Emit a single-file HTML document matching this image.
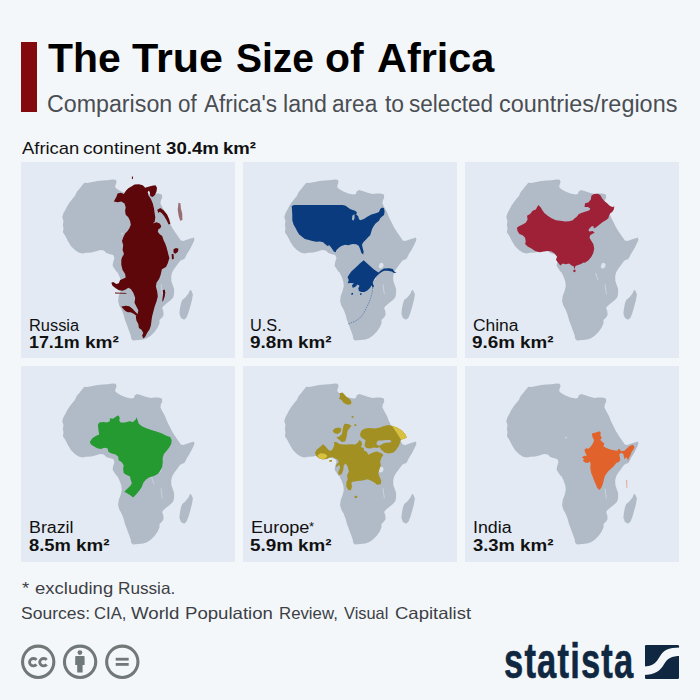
<!DOCTYPE html>
<html><head><meta charset="utf-8">
<style>
html,body{margin:0;padding:0;}
body{width:700px;height:700px;background:#f4f7fa;position:relative;overflow:hidden;font-family:"Liberation Sans",sans-serif;color:#000;}
.bar{position:absolute;left:21px;top:42px;width:16.4px;height:70px;background:#83090c;}
.t{position:absolute;white-space:nowrap;transform-origin:0 0;line-height:1;}
.t b{font-weight:bold;}
.p{position:absolute;width:214px;height:196px;background:#e3eaf3;overflow:hidden;}
.p svg{position:absolute;left:0;top:0;}
</style></head><body>
<svg width="0" height="0" style="position:absolute"><defs><g id="af"><path d="M41.9 70.3L42.5 66.6L41.9 62.8L42.5 59L41.3 55.3L42.3 51.5L44.4 47.7L46.3 43.9L48.8 40.2L51.3 37L53.9 33.9L55.7 30.1L58.3 27L60.8 23.8L63.3 20.7L66.4 21.1L71.5 20.1L76.5 19.1L81.5 18.5L86.5 18.2L91.6 17.5L94.7 17.8L95.6 20.1L94.7 22.6L94.1 25.1L96 27L100.4 29.5L105.4 31.4L110.4 32.6L112.9 32L113.6 29.5L116.1 28L119.6 28.9L124.6 30.7L129.6 32L133.4 31.4L137.2 31.6L140.9 32.6L141.2 35.8L139.9 38.3L139.4 41.4L141.6 45.8L144.1 50.2L146 55.3L148.5 60.3L151 65.3L154.1 70.3L157.3 74.7L159.8 78.5L162.3 78.9L167.3 77.3L173 75.4L173.4 77.9L171.7 81.7L169.2 86.7L166.1 91.7L163.6 96.7L159.2 98.8L156.1 102.9L152.9 107.3L151.1 110.4L150.2 114.2L150.4 119.2L151.7 123L153.1 126.7L153.1 131.8L152.2 135.5L149.9 137.9L146.1 141.1L142.3 144.2L141.1 146.1L142.3 149.2L142.6 153L141.1 155.5L138.5 158L138.5 161.2L136.7 165.6L133.5 170L129.7 173.7L126 176.3L122.2 177.5L117.2 178.1L112.1 178.4L110.3 176.9L109.6 173.1L107.7 168.1L105.9 163.1L104 158L102.7 153L100.8 148L98.3 143.6L97.1 139.2L97.7 134.1L99.6 129.1L100.8 124.1L100.2 119.1L98.3 114L95.8 109L96 110.6L93.5 106.8L91.6 103.7L92.2 99.9L93.5 96.1L92.2 93L89.1 92.3L85.3 91.1L82.8 88.6L79 87.9L75.2 89.2L70.2 90.5L65.2 90.7L61.4 91.5L57.6 90.5L53.9 87.9L50.1 84.2L46.9 79.1L44.4 74.1ZM170 127.9L171.9 132.3L171 137.9L169.3 144.2L167.5 150.5L165.6 155.5L163.1 157.8L159.9 156.1L158.4 151.7L158.9 146.7L159.9 141.7L161.2 137.9L164.3 135.4L167.5 131.6L168.7 128.5Z" fill="#b0bbc7"/><ellipse cx="138.2" cy="103.7" rx="2.2" ry="2.9" fill="#dbe4ee" transform="rotate(20 138.2 103.7)"/><path d="M130.4 110.9L131.6 114L132.9 118M140 122.3L140.6 127L141.4 132.3" stroke="#c9d3de" stroke-width="1" fill="none"/><circle cx="101" cy="71.6" r="0.9" fill="#d0dae5"/></g></defs></svg>
<div class="bar"></div>
<div class="p" style="left:21px;top:162px"><svg width="214" height="196" viewBox="0 0 214 196"><use href="#af"/><path d="M113.5 22.6L117.9 22.2L121.7 23.2L124.2 25.7L127.4 24.8L131.1 23.8L134.5 23.3L136 25.7L135.5 29.5L133.9 32.9L131.5 35L129.3 33.9L128.9 30.7L128 28.6L126.7 30.1L127.4 33.3L129.9 37L131.8 41.4L133 46.5L133.7 51.5L134.3 55.3L133.7 59.7L131.8 61.5L135.5 60.3L138.7 61.5L140.3 64.1L139.3 66.2L137.4 67.2L136.8 69.7L138.7 72.2L141.2 74.1L142.5 77.9L144.3 81.7L145.6 85.4L146.9 90.5L147.5 93L148.4 95.9L146.7 101.5L145 104.9L140.9 107.3L139.6 113L138.1 116.9L135.5 120.7L134.9 124.4L136.2 129.5L136.8 134.5L135.5 139.5L133.7 144.5L132.4 149.6L131.1 154.6L130.5 158.4L129.9 163.4L128.6 167.2L126.1 170.9L124.2 174.7L122.3 176.6L121.1 173.5L122.3 170.9L120.5 167.8L117.9 165.9L117.3 162.1L115.4 158.4L114.8 154.6L116.7 152.1L117.3 148.3L115.4 144.5L113.5 140.8L114.2 135.7L112.3 130.7L109.8 126.9L107.3 125.7L104.7 127.6L101.6 128.8L97.8 128.2L94.7 126.3L91.5 123.8L90.3 120.7L92.2 120L95.3 121.9L97.8 121.3L99.1 118.1L101.6 116.9L104.7 115.6L104.1 111.9L101.6 108.1L100.3 103.1L100.3 98L101.6 93L101.6 95.5L102.9 91.7L101.6 87.9L102.2 82.9L101 79.1L102.2 75.4L104.1 71.6L106.6 69.1L108.5 65.9L109.8 62.8L109.1 59L107.3 55.3L104.7 52.7L104.1 49L104.7 45.2L103.5 41.4L100.3 39.5L96.6 40.2L92.8 39.5L95.3 35.1L96.6 31.4L99.7 30.7L102.9 32L104.7 28.9L107.3 26.3L110.4 24.5ZM136.3 47.7L139.3 46L142.8 48.5L146.1 52.5L148.1 57.1L149.4 61.8L147.6 62.5L145.6 58.3L143.1 54L140.6 51L138.7 49.7L137.3 51ZM100.3 144.4L104.7 143.7L108.3 144.2L111.2 146.6L114 149.4L117.6 153L115.7 154L112.7 151.8L109.6 150.3L106.9 150.3L104.7 149.3L102.6 147.2ZM94 130.6L105.4 131L105.4 131.8L94 131.5ZM141.8 128.2L143.7 127.6L144.3 130.7L143.7 134.5L142.5 138.3L141.2 140.1L141.6 135.7L142.1 132ZM152.5 87.3L155 86.1L157.5 86.7L156.9 89.8L154.4 91.7L152.5 90.5ZM150.6 92.3L152.5 91.7L152.9 96.7L151 97.4ZM110.9 14.4L111.9 14.4L111.9 16.9L110.9 16.9Z" fill="#5d070a"/><path d="M157.5 40.8L159.4 41.2L159.9 46.5L161.2 51.5L161.4 58L159.2 58.8L157.7 54L156.7 47.7Z" fill="#5d070a" opacity=".55"/></svg></div>
<div class="p" style="left:243px;top:162px"><svg width="214" height="196" viewBox="0 0 214 196"><use href="#af"/><path d="M48.7 44.1L51.2 43.1L68.1 43.1L93.3 43.1L99.6 43.1L102.7 43.7L104.6 45.3L107.1 46.9L109.6 47.9L112.1 48.7L114 50.6L112.8 53.1L110.9 52.5L109.4 53.8L109 57.5L110.3 58.8L111.5 56.3L111.5 53.1L113.4 52.5L115.3 54.4L115.9 56.9L117.2 58.2L120.9 56.9L124.7 54.4L128.4 52.5L132.8 51.3L136 50L137.2 46.9L139.1 45.6L141 46.2L141.6 50L141 53.1L139.1 54.4L137.2 56.3L136 58.8L132.8 61.3L130.9 63.8L129.1 67L128.2 70.1L127.2 73.3L125.3 75.1L122.8 77.7L120.3 80.2L119 82.7L119.6 85.8L120.6 89.6L120.3 92.4L118.4 90.9L117.1 87.1L115.9 83.9L113.3 82.3L109.6 82.1L105.2 83.3L102.1 82.7L98.3 83.9L95.8 85.8L93.3 88.3L92.7 90.2L90.8 89.6L88.9 86.5L86.4 83.3L84.5 83.9L82 82.1L80.1 80.2L76.9 79.5L73.2 79.8L69.4 78.9L65 77.7L61.9 77L59.3 75.1L56.2 72.6L54.3 69.5L52.4 65.7L50.5 62.6L49.3 58.2L49.3 53.1L49 48.1ZM120.7 98.3L125.9 103.1L131 107.5L135.4 110.6L138.5 108.1L141 106.6L146.1 106.2L149.8 106.9L151.1 109.4L153.6 110.4L151.1 110.9L148.6 109.6L144.8 108.7L141 108.7L137.9 110.4L135.4 112.5L132.9 115L131 117.5L129.7 120.7L131 124.5L129.7 125.7L128.5 123.2L127.2 125.7L124.7 128.2L121.5 130.1L118.4 130.1L115.9 128.9L115.3 126.3L116.5 123.8L114.6 122.6L112.1 125.1L109.6 125.7L109 123.2L110.9 121.3L107.7 120.9L104.6 121.3L105.8 118.2L104.6 115L106.5 111.9L108.3 109.4L112.7 105.6L117.1 101.2ZM108.1 131.4L109.9 130.7L110.2 132.3L108.6 133ZM116.9 131.4L118.4 131.1L118.7 132.6L117.1 132.9Z" fill="#0a3b7e"/><path d="M129.7 125.7L129.1 130.7L127.8 135.8L125.9 140.8L123.4 145.8L120.9 150.9L117.8 155.3L112.7 159L104.6 162.2" fill="none" stroke="#0a3b7e" stroke-width="0.6" stroke-opacity=".7" stroke-dasharray="1.5 1"/></svg></div>
<div class="p" style="left:465px;top:162px"><svg width="214" height="196" viewBox="0 0 214 196"><use href="#af"/><path d="M51.9 65.7L54.4 63.9L57.6 62.6L60.7 60.7L62.6 57.6L62 53.8L65.1 51.9L67.6 48.8L70.8 47.5L73.3 43.1L75.8 45.6L77.7 48.8L79.6 51.3L82.7 53.8L86.5 56.3L90.9 58.2L95.3 58.8L100.3 59.5L104.1 59.2L107.9 58.2L108.8 57L112 54.5L113.9 51.9L117 50.7L120.8 49.4L124.5 48.2L125.2 46.3L122.7 45L119.5 45L120.1 41.3L123.3 40.6L125.8 37.5L126.4 33.7L128.9 32.1L132.7 31.8L135.2 33.1L137.1 36.2L139 38.7L142.1 41.3L144.7 43.8L147.2 45L149.3 44.4L148.8 47.5L147.2 50.1L145.3 51.3L144 53.8L143.4 56.3L140.9 58.2L137.7 60.1L134.6 62.6L131.5 65.1L128.9 66.4L128.3 63.9L126.4 64.5L124.5 66.4L123.3 68.3L124.5 69.5L127.7 68.9L129.6 70.8L127.1 72.1L125.2 73.3L124.5 75.8L126.4 79L128.3 82.1L129.2 86.5L128.3 90.9L126.4 94.7L123.3 98.5L119.5 101L119.2 100.3L115.4 102.2L111.6 103.5L110.1 104.5L110 106.5L109 106.2L108.9 104.5L106.6 103.5L104.1 101.6L100.9 102.2L97.8 101.6L95.3 103.5L93.4 100.9L90.9 97.8L92.1 94.7L89.6 91.5L86.5 89.6L82.7 89L78.9 89.6L74.5 90.3L70.1 89L66.4 86.5L62.6 84.6L60.1 82.1L60.7 79.6L60.1 75.8L57.6 73.3L54.4 72L52.5 68.9ZM108.5 108L109.6 107.4L110.6 108.1L110.4 109.7L109.1 110.2L108.2 109.2Z" fill="#9f2137"/></svg></div>
<div class="p" style="left:21px;top:366px"><svg width="214" height="196" viewBox="0 0 214 196"><use href="#af"/><path d="M68.8 76.1L71.3 72.3L75.1 69.8L78.2 68.5L77.6 64.7L76.9 59.1L78.2 56.6L82.6 55.9L85.7 56.6L88.9 55.3L88.9 52.2L92 52.8L94.5 50.9L97.1 49.3L98.7 51.5L98.3 54.7L99.6 56.6L104 56.6L108.4 55.3L112.1 55.9L114.7 53.4L115.5 51.3L116.8 54.7L117.8 57.8L120.9 60.3L125.3 62.2L130.4 64.1L135.4 65.4L140.4 67.3L145.5 69.8L149.2 71L150.7 74.2L150.2 77.9L148 81.7L145.5 84.9L142.9 88L141.7 91.8L141.7 96.8L141.1 101.2L139.2 105L136.7 108.1L132.9 110L128.5 111.3L124.7 113.8L122.2 116.9L120.9 120.7L118.4 124.5L115.3 128.2L112.1 131.4L109.6 129.5L106.5 127.6L103.3 125.7L106.5 122.6L109.6 119.4L110.9 116.9L109.6 113.8L109 110.6L105.2 108.7L102.7 106.9L102.1 103.1L102.7 99.3L100.8 96.2L97.7 94.3L97.1 90.5L94.5 88.6L90.8 87.4L87.6 86.1L86.4 82.3L83.2 81.7L80.1 83L76.3 82.3L73.2 80.5L70 78.6Z" fill="#249a30"/></svg></div>
<div class="p" style="left:243px;top:366px"><svg width="214" height="196" viewBox="0 0 214 196"><use href="#af"/><path d="M71.9 86.7L73.8 83.6L77.6 80.4L80.1 78.2L82.6 80.4L85.7 84.2L88.3 84.8L90.1 82.3L91.4 78.5L90.8 76L93.3 76L96.4 77.9L99.6 78.5L104 78.5L108.4 78.2L112.1 78.5L114.7 76.7L116.5 74.1L118.4 75.4L119.1 78.5L117.8 81.1L120.9 81.9L120.8 84.3L124 86.1L125.2 88.7L127.7 87.4L131.5 86.1L134 85.5L137.2 86.8L139.1 87.4L140.3 89.3L138.4 91.8L137.2 95.6L137.8 99.3L136.5 103.1L135.3 106.9L136.5 110.7L138.2 114.4L137.8 118.2L134 118.8L130.9 116.3L127.7 114.4L124.6 113.2L119.6 114.4L114.5 115.1L109.5 115.7L110.3 115L108.4 116.9L109 120.7L107.7 124.4L105.2 123.8L103.3 120.7L103.3 116.9L104.6 113.1L104 109.3L105.9 105.6L104.6 100.5L102.7 97.4L100.8 99.3L100.2 104.3L98.9 108.1L95.8 109.3L95.2 106.2L97.1 101.8L96.4 98.7L93.9 100.5L92.7 101.8L93.3 98.7L95.8 96.1L94.5 93.6L92 92.4L89.5 91.1L86.4 91.7L83.9 93L80.1 93.6L76.3 92.4L73.2 89.9ZM101.5 57.8L105.2 58.1L108.4 59.7L106.5 62.2L104.6 64.7L104 68.5L103.3 72.3L102.1 75.4L98.9 76L95.8 73.5L93.3 71.6L96.4 70.4L98.9 67.9L99.6 64.1L100.2 60.9ZM89.5 64.7L92 62.2L95.8 61.6L98.3 62.8L97.7 66L94.5 67.9L91.4 67.2ZM117 68L118.5 64.5L122 62.5L127 62L132 62.5L137 61.5L141 60L145 59L149 59.8L154 61.5L159 64.5L162.5 68.5L163.8 71.5L161 73L158 73.5L157 77L155.5 80.5L153 84L150.5 86.5L146 87.5L142 86.8L138.5 84L136.5 81L134.5 82L131 81.5L127 82.5L123.5 82L121.5 80L122 77L122.5 74L119.5 72.5L117.5 70.5L117 68L133.5 76.5L133.8 78.5L135.5 79.8L138 79L140 77.5L143 76.8L147 76.5L148.5 75.2L147 74L143 74L139 74.5L135.5 74.5L133.5 76.5ZM96.5 27.2L99.6 26.6L101.2 28.2L103.4 30.7L106.6 32.9L108.4 35.4L108.1 37.9L105.9 38.8L102.8 38.2L100.3 36.6L98.4 34.1L95.9 32.6L97.1 30.4ZM108.7 50L110.5 50L110.5 51.8L108.7 51.8ZM111.5 58.2L113.3 58.2L113.3 59.9L111.5 59.9ZM111.5 130.1L114.3 129.8L114 132L111.8 132ZM86.4 94L88.9 94L88.9 95.8L86.4 95.8Z" fill="#a29122" fill-rule="evenodd"/><path d="M149 59.8L154 61.5L159 64.5L162.5 68.5L163.8 71.5L161 73L158 73.5L156 70.5L153.5 66.5L151 63ZM74.4 89.2L77.6 87.3L82 87.7L84.5 89.9L82.6 92.4L78.8 93.3L75.7 92Z" fill="#d8c040"/></svg></div>
<div class="p" style="left:465px;top:366px"><svg width="214" height="196" viewBox="0 0 214 196"><use href="#af"/><path d="M127.1 67.3L130.1 66.8L134.3 65.3L135.8 66.8L135.3 69.4L136.8 71.4L135.3 74L137.3 76.1L139.4 77.6L138.4 80.2L140.9 81.7L144.5 83.3L148.7 84.3L152.3 84.8L153.8 82.7L155.3 83.8L155.9 85.3L159.5 84.8L161.5 82.7L164.1 80.2L167.7 78.8L169.5 80.7L168.7 83.3L166.7 85.8L165.6 88.9L164.1 91.5L163.1 94.6L162 92L160.5 91.5L159.5 93.5L158.9 90.5L158.4 87.9L156.4 86.9L154.3 87.9L154.8 91L155.3 94.1L153.8 96.1L151.2 97.1L149.2 99.7L146.6 102.3L143.5 104.9L141.5 107.4L139.9 110L138.9 113.6L137.9 117.7L136.3 121.8L134.3 123.9L132.2 121.8L130.7 118.2L129.1 114.6L127.6 110.5L126 106.4L125.3 102.3L125.5 98.2L125 95.6L122.9 97.1L119.9 96.6L117.8 94.6L119.3 93L116.8 91.5L118.8 89.9L121.9 89.4L120.4 86.9L119.3 83.8L121.4 82.2L123.5 82.7L126 80.2L128.1 77.1L129.1 74L127.6 71.4L127.1 68.9Z" fill="#e1632b"/><path d="M161.3 114.1L162.1 114.1L162.3 121.8L161.5 121.8Z" fill="#e1632b" opacity=".6"/></svg></div>
<div class="t" style="left:48.00px;top:38.14px;font-size:40px;font-weight:bold;color:#000;transform:scaleX(1.0229)">The</div>
<div class="t" style="left:132.10px;top:38.14px;font-size:40px;font-weight:bold;color:#000;transform:scaleX(1.0759)">True</div>
<div class="t" style="left:235.83px;top:38.14px;font-size:40px;font-weight:bold;color:#000;transform:scaleX(0.9744)">Size</div>
<div class="t" style="left:325.16px;top:38.14px;font-size:40px;font-weight:bold;color:#000;transform:scaleX(1.0222)">of</div>
<div class="t" style="left:376.96px;top:38.14px;font-size:40px;font-weight:bold;color:#000;transform:scaleX(1.0354)">Africa</div>
<div class="t" style="left:47.19px;top:92.53px;font-size:23px;font-weight:normal;color:#4a4e53;transform:scaleX(1.0098)">Comparison</div>
<div class="t" style="left:178.13px;top:92.53px;font-size:23px;font-weight:normal;color:#4a4e53;transform:scaleX(0.9722)">of</div>
<div class="t" style="left:204.20px;top:92.53px;font-size:23px;font-weight:normal;color:#4a4e53;transform:scaleX(0.9784)">Africa's</div>
<div class="t" style="left:283.29px;top:92.53px;font-size:23px;font-weight:normal;color:#4a4e53;transform:scaleX(1.0098)">land</div>
<div class="t" style="left:331.92px;top:92.53px;font-size:23px;font-weight:normal;color:#4a4e53;transform:scaleX(0.9822)">area</div>
<div class="t" style="left:385.00px;top:92.53px;font-size:23px;font-weight:normal;color:#4a4e53;transform:scaleX(0.9944)">to</div>
<div class="t" style="left:409.02px;top:92.53px;font-size:23px;font-weight:normal;color:#4a4e53;transform:scaleX(0.9807)">selected</div>
<div class="t" style="left:498.98px;top:92.53px;font-size:23px;font-weight:normal;color:#4a4e53;transform:scaleX(1.0184)">countries/regions</div>
<div class="t" style="left:22.10px;top:140.11px;font-size:17px;font-weight:normal;color:#111;transform:scaleX(1.0827)">African</div>
<div class="t" style="left:83.37px;top:140.11px;font-size:17px;font-weight:normal;color:#111;transform:scaleX(1.1265)">continent</div>
<div class="t" style="left:165.50px;top:140.11px;font-size:17px;font-weight:bold;color:#111;transform:scaleX(1.0978)">30.4m</div>
<div class="t" style="left:223.21px;top:140.11px;font-size:17px;font-weight:bold;color:#111;transform:scaleX(1.0931)">km²</div>
<div class="t" style="left:22.00px;top:579.53px;font-size:16.5px;font-weight:normal;color:#3c4045;transform:scaleX(1.1250)">*</div>
<div class="t" style="left:35.13px;top:579.53px;font-size:16.5px;font-weight:normal;color:#3c4045;transform:scaleX(1.1213)">excluding</div>
<div class="t" style="left:117.71px;top:579.53px;font-size:16.5px;font-weight:normal;color:#3c4045;transform:scaleX(1.0406)">Russia.</div>
<div class="t" style="left:21.04px;top:604.53px;font-size:16.5px;font-weight:normal;color:#3c4045;transform:scaleX(1.0603)">Sources:</div>
<div class="t" style="left:94.39px;top:604.53px;font-size:16.5px;font-weight:normal;color:#3c4045;transform:scaleX(1.0100)">CIA,</div>
<div class="t" style="left:131.10px;top:604.53px;font-size:16.5px;font-weight:normal;color:#3c4045;transform:scaleX(1.1310)">World</div>
<div class="t" style="left:184.57px;top:604.53px;font-size:16.5px;font-weight:normal;color:#3c4045;transform:scaleX(1.1276)">Population</div>
<div class="t" style="left:278.98px;top:604.53px;font-size:16.5px;font-weight:normal;color:#3c4045;transform:scaleX(1.0179)">Review,</div>
<div class="t" style="left:344.30px;top:604.53px;font-size:16.5px;font-weight:normal;color:#3c4045;transform:scaleX(0.9932)">Visual</div>
<div class="t" style="left:394.58px;top:604.53px;font-size:16.5px;font-weight:normal;color:#3c4045;transform:scaleX(1.1209)">Capitalist</div>
<div class="t" style="left:28.98px;top:317.86px;font-size:16px;font-weight:normal;color:#111;transform:scaleX(1.0250)">Russia</div>
<div class="t" style="left:28.88px;top:335.36px;font-size:16px;font-weight:bold;color:#111;transform:scaleX(1.1159)">17.1m</div>
<div class="t" style="left:84.81px;top:335.36px;font-size:16px;font-weight:bold;color:#111;transform:scaleX(1.1926)">km²</div>
<div class="t" style="left:250.38px;top:317.86px;font-size:16px;font-weight:normal;color:#111;transform:scaleX(1.0207)">U.S.</div>
<div class="t" style="left:249.92px;top:335.36px;font-size:16px;font-weight:bold;color:#111;transform:scaleX(1.1800)">9.8m</div>
<div class="t" style="left:297.73px;top:335.36px;font-size:16px;font-weight:bold;color:#111;transform:scaleX(1.1741)">km²</div>
<div class="t" style="left:472.91px;top:317.86px;font-size:16px;font-weight:normal;color:#111;transform:scaleX(1.0878)">China</div>
<div class="t" style="left:471.92px;top:335.36px;font-size:16px;font-weight:bold;color:#111;transform:scaleX(1.1800)">9.6m</div>
<div class="t" style="left:519.73px;top:335.36px;font-size:16px;font-weight:bold;color:#111;transform:scaleX(1.1741)">km²</div>
<div class="t" style="left:28.99px;top:519.66px;font-size:16px;font-weight:normal;color:#111;transform:scaleX(1.1132)">Brazil</div>
<div class="t" style="left:29.10px;top:538.06px;font-size:16px;font-weight:bold;color:#111;transform:scaleX(1.1472)">8.5m</div>
<div class="t" style="left:75.73px;top:538.06px;font-size:16px;font-weight:bold;color:#111;transform:scaleX(1.1741)">km²</div>
<div class="t" style="left:250.87px;top:519.66px;font-size:16px;font-weight:normal;color:#111;transform:scaleX(1.1320)">Europe</div>
<div class="t" style="left:249.92px;top:538.06px;font-size:16px;font-weight:bold;color:#111;transform:scaleX(1.1800)">5.9m</div>
<div class="t" style="left:297.73px;top:538.06px;font-size:16px;font-weight:bold;color:#111;transform:scaleX(1.1741)">km²</div>
<div class="t" style="left:473.49px;top:519.66px;font-size:16px;font-weight:normal;color:#111;transform:scaleX(1.1118)">India</div>
<div class="t" style="left:473.10px;top:538.06px;font-size:16px;font-weight:bold;color:#111;transform:scaleX(1.1472)">3.3m</div>
<div class="t" style="left:519.73px;top:538.06px;font-size:16px;font-weight:bold;color:#111;transform:scaleX(1.1741)">km²</div>
<div class="t" style="left:309.0px;top:519.6px;font-size:13px;color:#111;">*</div>
<svg style="position:absolute;left:0;top:636px" width="160" height="52" viewBox="0 636 160 52">
<g fill="none" stroke="#717878" stroke-width="3.1"><circle cx="38.2" cy="661.8" r="15.65"/><circle cx="80.1" cy="661.8" r="15.65"/><circle cx="122.3" cy="661.8" r="15.65"/></g>
<g fill="none" stroke="#717878" stroke-width="2.9"><path d="M36.5 659.9A3.9 3.7 0 1 0 36.5 664.5"/><path d="M46.7 659.9A3.9 3.7 0 1 0 46.7 664.5"/></g>
<g fill="#717878"><circle cx="79.9" cy="652.6" r="2.4"/><path d="M75.2 657.1q0-1 1-1h7.4q1 0 1 1v7.8h-2v7.5h-5.4v-7.5h-2z"/>
<rect x="115.7" y="657.8" width="13" height="2.8"/><rect x="115.7" y="663" width="13" height="2.8"/></g>
</svg>
<div class="t" id="stat" style="left:503.60px;top:635.67px;font-size:50px;transform:scaleX(0.6911);font-weight:bold;color:#0f2741;-webkit-text-stroke:0.6px #0f2741;letter-spacing:1.7px;">statista</div>
<svg style="position:absolute;left:640px;top:640px" width="44" height="44" viewBox="640 640 44 44">
<rect x="645" y="645" width="34" height="34" rx="1.2" fill="#0f2741"/>
<path d="M643 666.5C654 666.5 656.5 662 660 656.2C663.5 650.5 667 647.5 681 647.5L681 656C671 656 667.5 658.5 664 664.2C660.5 670.5 655 675 643 675Z" fill="#f4f7fa"/>
</svg>
</body></html>
